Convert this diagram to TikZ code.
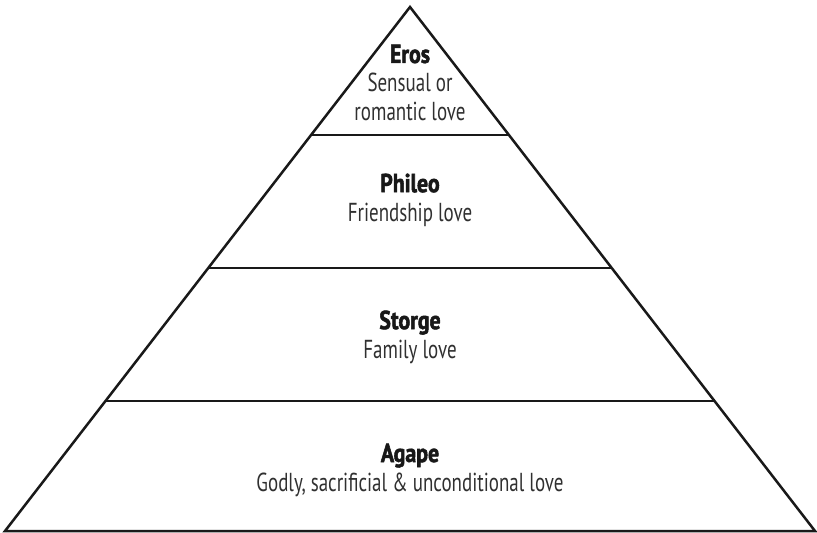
\documentclass[tikz,border=0pt]{standalone}
\usepackage{fontspec}
\setmainfont{PT Sans}[FakeStretch=0.73,BoldFeatures={FakeStretch=0.84,FakeBold=2}]
\usepackage{xcolor}
\usepackage{tikz}
\usetikzlibrary{calc}
\definecolor{textgray}{RGB}{48,48,48}
\definecolor{titleblack}{RGB}{24,24,24}
\tikzset{
  edge/.style={
    line width=2.5pt,
    black!90,
    line join=miter
  },
  divider/.style={
    line width=2.5pt,
    black!90
  },
  tiertext/.style={
    align=center,
    font=\fontsize{26}{29}\selectfont,
    text=textgray,
    inner sep=0pt
  }
}
\newcommand{\tiertitle}[1]{{\bfseries\color{titleblack}#1}}

\begin{document}
\begin{tikzpicture}[x=1pt,y=-1pt]
\useasboundingbox (0,0) rectangle (817,533);
\coordinate (apex) at (410,7);
\coordinate (bl) at (5,531);
\coordinate (br) at (815,531);
\draw[edge] (apex) -- (bl) -- (br) -- cycle;
\foreach \t in {0.244,0.498,0.752}{
  \draw[divider] ($(apex)!\t!(bl)$) -- ($(apex)!\t!(br)$);
}
\node[tiertext] (eros) at (410,83) {\tiertitle{Eros}\\Sensual or\\romantic love};
\node[tiertext] (phileo) at (410,200) {\tiertitle{Phileo}\\Friendship love};
\node[tiertext] (storge) at (410,337) {\tiertitle{Storge}\\Family love};
\node[tiertext] (agape) at (410,470) {\tiertitle{Agape}\\Godly, sacrificial \& unconditional love};
\end{tikzpicture}
\end{document}
